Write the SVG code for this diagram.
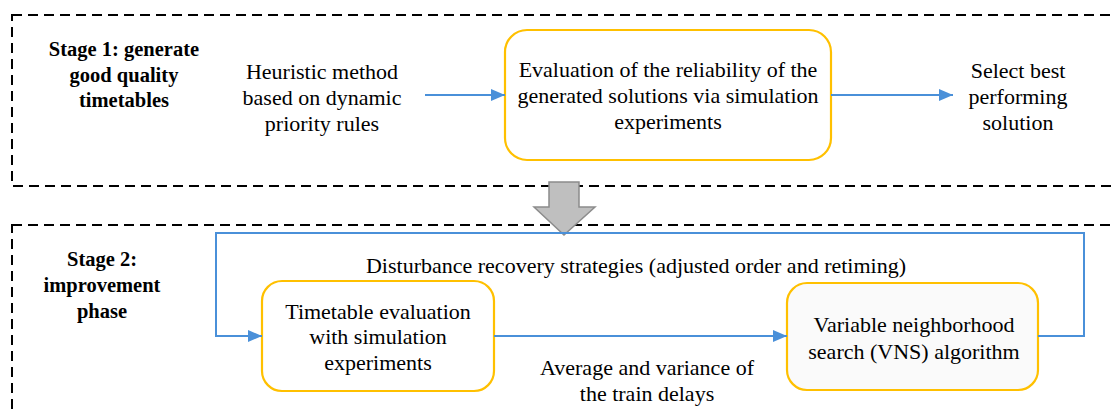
<svg xmlns="http://www.w3.org/2000/svg" width="1112" height="410" viewBox="0 0 1112 410">
<style>
.frame{fill:none;stroke:#000;stroke-width:2;stroke-dasharray:10 6}
.box{fill:#fff;stroke:#FFC000;stroke-width:2.2}
.c{fill:none;stroke:#4A90D9;stroke-width:2}
</style>
<defs>
<marker id="ah" viewBox="0 0 14 12" refX="14" refY="6" markerWidth="14" markerHeight="12" markerUnits="userSpaceOnUse" orient="auto">
<path d="M0,0 L14,6 L0,12 z" fill="#4A90D9"/>
</marker>
</defs>
<rect class="frame" x="12" y="15" width="1120" height="171"/>
<rect class="frame" x="12" y="225" width="1120" height="220"/>
<g font-family="'Liberation Serif', 'Times New Roman', serif" text-anchor="middle" fill="#000">
<g id="stage1-label" font-size="20.5" font-weight="bold">
<text x="124" y="56">Stage 1: generate</text>
<text x="124" y="82">good quality</text>
<text x="124" y="107">timetables</text>
</g>
<g id="heuristic" font-size="22">
<text x="322" y="79">Heuristic method</text>
<text x="322" y="105">based on dynamic</text>
<text x="322" y="131">priority rules</text>
</g>
<g id="evaluation" font-size="22">
<rect class="box" x="505" y="30" width="326" height="130" rx="22"/>
<text x="668" y="77">Evaluation of the reliability of the</text>
<text x="668" y="103">generated solutions via simulation</text>
<text x="668" y="129">experiments</text>
</g>
<g id="select" font-size="22">
<text x="1018" y="78">Select best</text>
<text x="1018" y="104">performing</text>
<text x="1018" y="130">solution</text>
</g>
<g id="stage-arrow">
<path d="M549,182 L579,182 L579,207 L595,207 L564,235 L534,207 L549,207 Z" fill="#BFBFBF" stroke="#8C8C8C" stroke-width="1.5"/>
</g>
<g id="stage2-label" font-size="20.5" font-weight="bold">
<text x="102" y="266">Stage 2:</text>
<text x="102" y="292">improvement</text>
<text x="102" y="318">phase</text>
</g>
<g id="timetable-eval" font-size="22">
<rect class="box" x="262" y="281" width="232" height="110" rx="20"/>
<text x="378" y="319">Timetable evaluation</text>
<text x="378" y="344">with simulation</text>
<text x="378" y="370">experiments</text>
</g>
<g id="vns" font-size="22">
<rect class="box" x="787" y="283" width="251" height="107" rx="20" style="fill:#FAFAFA"/>
<text x="914" y="332">Variable neighborhood</text>
<text x="914" y="359">search (VNS) algorithm</text>
</g>
<g id="connectors" font-size="22">
<line class="c" x1="425" y1="95" x2="505" y2="95" marker-end="url(#ah)"/>
<line class="c" x1="831" y1="95" x2="953" y2="95" marker-end="url(#ah)"/>
<line class="c" x1="494" y1="336" x2="787" y2="336" marker-end="url(#ah)"/>
<path class="c" d="M1038,336 L1084,336 L1084,233 L216,233 L216,336 L262,336" marker-end="url(#ah)"/>
<text x="636" y="273">Disturbance recovery strategies (adjusted order and retiming)</text>
<text x="647" y="375">Average and variance of</text>
<text x="647" y="401">the train delays</text>
</g>
</g>
</svg>
